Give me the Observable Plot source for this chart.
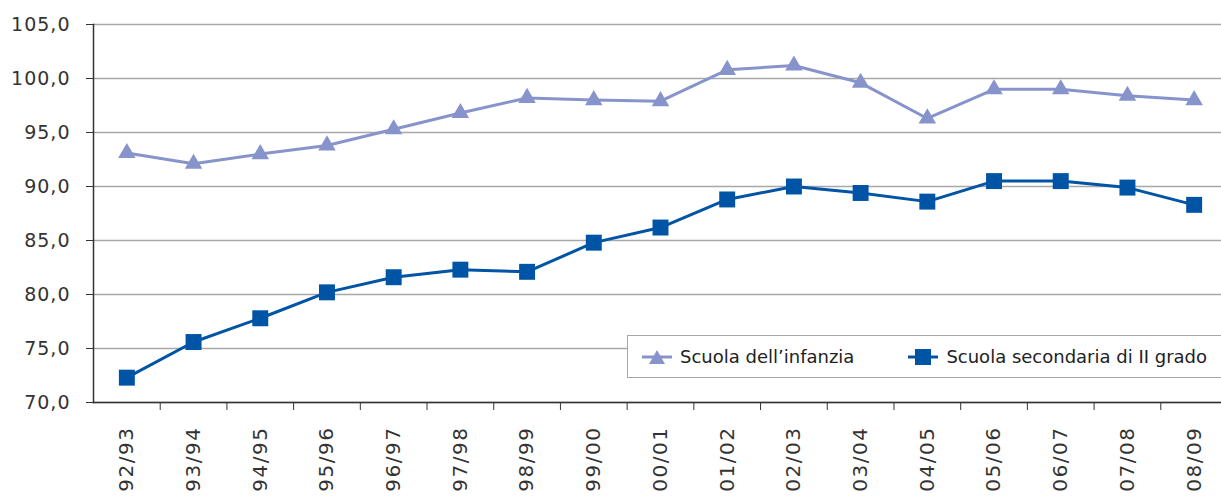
<!DOCTYPE html>
<html><head><meta charset="utf-8">
<script src="https://cdn.jsdelivr.net/npm/d3@7"></script>
<script src="https://cdn.jsdelivr.net/npm/@observablehq/plot@0.6"></script>
<style>
body{margin:0;background:#fff;overflow:hidden;font-family:"DejaVu Sans",sans-serif;}
#wrap{position:relative;width:1221px;height:496px;overflow:hidden;}
#legend{position:absolute;left:627px;top:335px;width:610px;height:43px;border:1px solid #a8a8a8;background:#fff;box-sizing:border-box;display:flex;align-items:center;font-size:18px;color:#222;}
#legend .item{display:flex;align-items:center;margin-left:14px;margin-right:20px;}
#legend svg{margin-right:8px;}
g[aria-label="x-axis tick label"] text{letter-spacing:1.5px;}
g[aria-label="y-axis tick label"] text{letter-spacing:1px;}
</style></head><body><div id="wrap"></div>
<script>
const years = ["92/93","93/94","94/95","95/96","96/97","97/98","98/99","99/00","00/01","01/02","02/03","03/04","04/05","05/06","06/07","07/08","08/09"];
const infanzia = [93.1,92.1,93.0,93.8,95.3,96.8,98.2,98.0,97.9,100.8,101.2,99.6,96.3,99.0,99.0,98.4,98.0];
const secondaria = [72.3,75.6,77.8,80.2,81.6,82.3,82.1,84.8,86.2,88.8,90.0,89.4,88.6,90.5,90.5,89.9,88.3];
const seriesNames = ["Scuola dell’infanzia","Scuola secondaria di II grado"];
const seriesColors = ["#8794cb","#0054a6"];
const yTicks = [70,75,80,85,90,95,100,105];

const W = 1221, H = 496, mL = 93, xEnd = 1227;
const bw = (xEnd - mL) / years.length;
const dInf = years.map((y,i)=>({year:y, value:infanzia[i]}));
const dSec = years.map((y,i)=>({year:y, value:secondaria[i]}));
const fmt = d => d.toFixed(1).replace(".", ",");

const chart = Plot.plot({
  width: W, height: H,
  marginLeft: mL, marginRight: 0, marginTop: 24, marginBottom: 94,
  style: {fontFamily: '"DejaVu Sans", sans-serif', color: "#333", background: "#fff"},
  x: {domain: years, type: "band", range: [mL, xEnd], padding: 0, round: false},
  y: {domain: [70,105]},
  marks: [
    Plot.gridY(yTicks, {stroke: "#a8a8a8", strokeOpacity: 1, strokeWidth: 1.6}),
    Plot.axisY(yTicks, {tickSize: 7, tickPadding: 16, tickFormat: fmt, fontSize: 19, label: null, stroke: "#333", fill: "#333"}),
    Plot.axisX(years.slice(0,-1), {tickSize: 8, dx: bw/2, tickFormat: () => "", label: null, stroke: "#333"}),
    Plot.axisX({tickSize: 0, tickPadding: 24, tickRotate: -90, fontSize: 20, label: null, fill: "#333"}),
    Plot.frame({anchor: "left", stroke: "#333", strokeWidth: 1.5}),
    Plot.frame({anchor: "bottom", stroke: "#333", strokeWidth: 1.5}),
    Plot.line(dInf, {x: "year", y: "value", stroke: seriesColors[0], strokeWidth: 3}),
    Plot.dot(dInf, {x: "year", y: "value", symbol: "triangle", r: 6.5, fill: seriesColors[0], stroke: "none"}),
    Plot.line(dSec, {x: "year", y: "value", stroke: seriesColors[1], strokeWidth: 3}),
    Plot.dot(dSec, {x: "year", y: "value", symbol: "square", r: 9, fill: seriesColors[1], stroke: "none"})
  ]
});
const wrap = document.getElementById("wrap");
wrap.appendChild(chart);

const legend = document.createElement("div");
legend.id = "legend";
const tri = `<svg width="30" height="16"><line x1="0" y1="8" x2="30" y2="8" stroke="${seriesColors[0]}" stroke-width="3"/><path d="M15,1 L23,15 L7,15 Z" fill="${seriesColors[0]}"/></svg>`;
const sq = `<svg width="30" height="18"><line x1="0" y1="9" x2="30" y2="9" stroke="${seriesColors[1]}" stroke-width="3"/><rect x="7" y="1" width="16" height="16" fill="${seriesColors[1]}"/></svg>`;
legend.innerHTML = `<div class="item">${tri}<span>${seriesNames[0]}</span></div><div class="item" style="margin-left:34px">${sq}<span>${seriesNames[1]}</span></div>`;
wrap.appendChild(legend);
</script></body></html>
